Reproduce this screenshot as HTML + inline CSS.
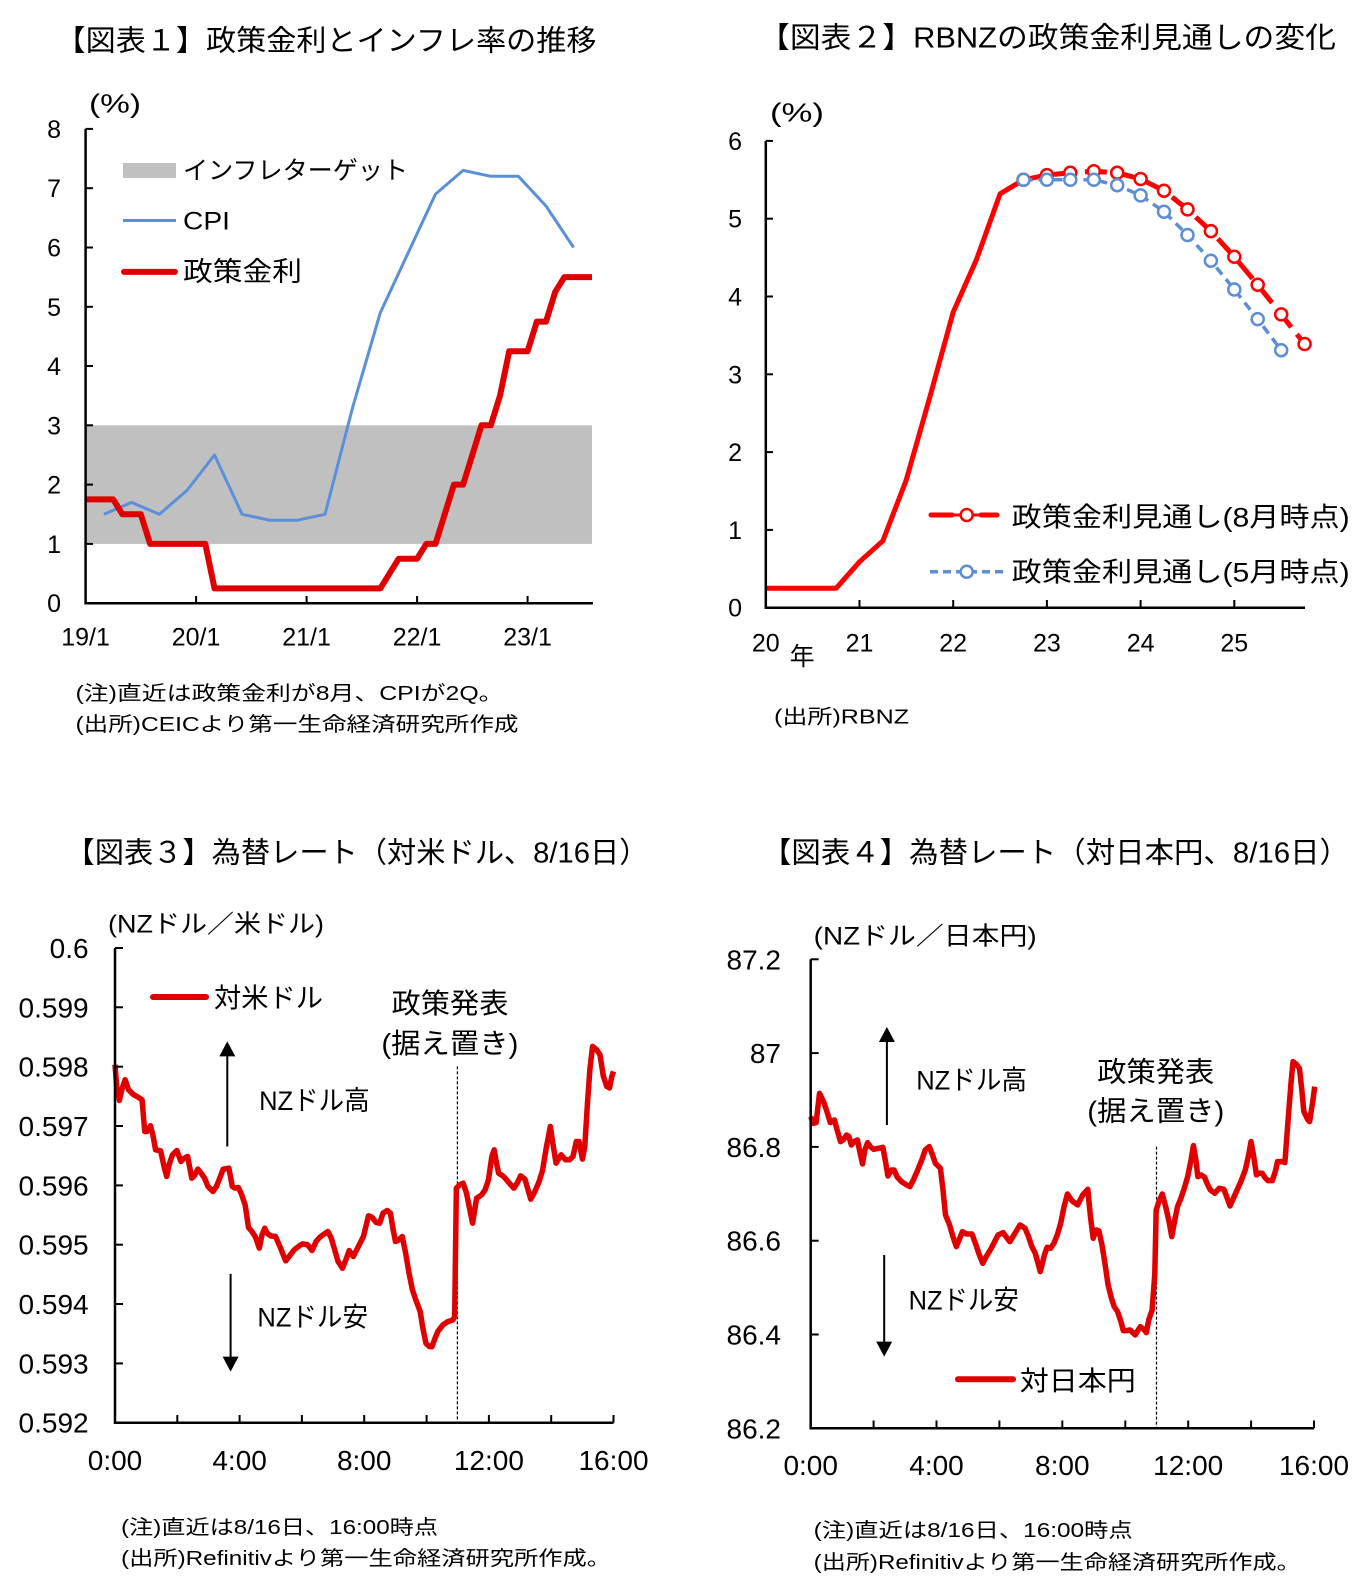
<!DOCTYPE html>
<html><head><meta charset="utf-8">
<style>
html,body{margin:0;padding:0;background:#fff;}
svg{display:block;}
text{font-family:"Liberation Sans","Noto Sans CJK JP",sans-serif;fill:#000;}
</style></head>
<body>
<svg width="1367" height="1579" viewBox="0 0 1367 1579" xmlns="http://www.w3.org/2000/svg">
<rect width="1367" height="1579" fill="#fff"/>

<!-- ================= CHART 1 ================= -->
<text x="55.5" y="50.7" font-size="29" textLength="541" lengthAdjust="spacingAndGlyphs">【図表１】政策金利とインフレ率の推移</text>
<text x="89" y="112.5" font-size="26" textLength="52" lengthAdjust="spacingAndGlyphs">(%)</text>
<!-- band -->
<rect x="85.6" y="425.3" width="506.4" height="118.6" fill="#c0c0c0"/>
<!-- CPI -->
<polyline fill="none" stroke="#5b8fd9" stroke-width="3" stroke-linejoin="round"
 points="104.0,514.3 131.6,502.4 159.3,514.3 186.9,490.5 214.5,455.0 242.1,514.3 269.8,520.2 297.4,520.2 325.0,514.3 352.6,407.5 380.3,312.7 407.9,253.4 435.5,194.1 463.1,170.4 490.8,176.3 518.4,176.3 546.0,206.0 573.6,247.5"/>
<!-- policy rate -->
<polyline fill="none" stroke="#e00000" stroke-width="6" stroke-linejoin="round"
 points="85.6,499.4 113.2,499.4 122.4,514.3 140.8,514.3 150.1,543.9 205.3,543.9 214.5,588.4 380.3,588.4 398.7,558.7 417.1,558.7 426.3,543.9 435.5,543.9 453.9,484.6 463.1,484.6 481.5,425.3 490.8,425.3 500.0,395.7 509.2,351.2 527.6,351.2 536.8,321.6 546.0,321.6 555.2,291.9 564.4,277.1 592.0,277.1"/>
<!-- axes -->
<polyline points="85.6,128.9 85.6,603.2 593,603.2" fill="none" stroke="#000" stroke-width="2.5"/>
<g stroke="#000" stroke-width="2">
<line x1="85.6" y1="128.9" x2="93" y2="128.9"/>
<line x1="85.6" y1="188.2" x2="93" y2="188.2"/>
<line x1="85.6" y1="247.5" x2="93" y2="247.5"/>
<line x1="85.6" y1="306.8" x2="93" y2="306.8"/>
<line x1="85.6" y1="366.0" x2="93" y2="366.0"/>
<line x1="85.6" y1="425.3" x2="93" y2="425.3"/>
<line x1="85.6" y1="484.6" x2="93" y2="484.6"/>
<line x1="85.6" y1="543.9" x2="93" y2="543.9"/>
<line x1="196.1" y1="603.2" x2="196.1" y2="596"/>
<line x1="306.6" y1="603.2" x2="306.6" y2="596"/>
<line x1="417.1" y1="603.2" x2="417.1" y2="596"/>
<line x1="527.6" y1="603.2" x2="527.6" y2="596"/>
</g>
<g font-size="25" text-anchor="end">
<text x="61" y="137.9">8</text>
<text x="61" y="197.2">7</text>
<text x="61" y="256.5">6</text>
<text x="61" y="315.8">5</text>
<text x="61" y="375.0">4</text>
<text x="61" y="434.3">3</text>
<text x="61" y="493.6">2</text>
<text x="61" y="552.9">1</text>
<text x="61" y="612.2">0</text>
</g>
<g font-size="25" text-anchor="middle">
<text x="85.6" y="645.5">19/1</text>
<text x="196.1" y="645.5">20/1</text>
<text x="306.6" y="645.5">21/1</text>
<text x="417.1" y="645.5">22/1</text>
<text x="527.6" y="645.5">23/1</text>
</g>
<!-- legend -->
<rect x="123" y="163" width="53" height="15" fill="#c0c0c0"/>
<line x1="123" y1="220.5" x2="176" y2="220.5" stroke="#5b8fd9" stroke-width="3"/>
<line x1="124" y1="271.9" x2="175" y2="271.9" stroke="#e00000" stroke-width="6" stroke-linecap="round"/>
<text x="183" y="179.2" font-size="25" textLength="225" lengthAdjust="spacingAndGlyphs">インフレターゲット</text>
<text x="183" y="229.5" font-size="25" textLength="47" lengthAdjust="spacingAndGlyphs">CPI</text>
<text x="183" y="280.9" font-size="27" textLength="119" lengthAdjust="spacingAndGlyphs">政策金利</text>
<!-- notes -->
<text x="75.5" y="700" font-size="20" textLength="428" lengthAdjust="spacingAndGlyphs">(注)直近は政策金利が8月、CPIが2Q。</text>
<text x="75.5" y="731.2" font-size="20" textLength="443" lengthAdjust="spacingAndGlyphs">(出所)CEICより第一生命経済研究所作成</text>

<!-- ================= CHART 2 ================= -->
<text x="759" y="47.7" font-size="29" textLength="577" lengthAdjust="spacingAndGlyphs">【図表２】RBNZの政策金利見通しの変化</text>
<text x="770" y="121.6" font-size="26" textLength="54" lengthAdjust="spacingAndGlyphs">(%)</text>
<!-- historical -->
<polyline fill="none" stroke="#ff0000" stroke-width="5" stroke-linejoin="round"
 points="765.8,588.3 836.1,588.3 859.5,561.8 882.9,540.8 906.2,480.1 929.7,397.6 953.2,312.1 976.6,259.2 1000.1,193.8 1023.5,179.8"/>
<!-- red forecast -->
<polyline fill="none" stroke="#ff0000" stroke-width="5" stroke-dasharray="22 9" stroke-linejoin="round"
 points="1023.5,179.8 1046.9,175.1 1070.3,172.8 1093.8,171.2 1117.2,172.8 1140.6,179.0 1164.0,190.7 1187.5,209.4 1210.9,231.1 1234.3,256.8 1257.7,284.8 1281.2,314.4 1304.6,344.0"/>
<g fill="#fff" stroke="#ff0000" stroke-width="2.5">
<circle cx="1023.5" cy="179.8" r="6"/><circle cx="1046.9" cy="175.1" r="6"/><circle cx="1070.3" cy="172.8" r="6"/><circle cx="1093.8" cy="171.2" r="6"/><circle cx="1117.2" cy="172.8" r="6"/><circle cx="1140.6" cy="179.0" r="6"/><circle cx="1164.0" cy="190.7" r="6"/><circle cx="1187.5" cy="209.4" r="6"/><circle cx="1210.9" cy="231.1" r="6"/><circle cx="1234.3" cy="256.8" r="6"/><circle cx="1257.7" cy="284.8" r="6"/><circle cx="1281.2" cy="314.4" r="6"/><circle cx="1304.6" cy="344.0" r="6"/>
</g>
<!-- blue forecast -->
<polyline fill="none" stroke="#5b8ed6" stroke-width="3.5" stroke-dasharray="9 6" stroke-linejoin="round"
 points="1023.5,179.8 1046.9,179.8 1070.3,179.8 1093.8,179.8 1117.2,185.2 1140.6,195.4 1164.0,211.7 1187.5,235.0 1210.9,260.7 1234.3,289.5 1257.7,319.1 1281.2,350.2"/>
<g fill="#fff" stroke="#5b8ed6" stroke-width="2.5">
<circle cx="1023.5" cy="179.8" r="6"/><circle cx="1046.9" cy="179.8" r="6"/><circle cx="1070.3" cy="179.8" r="6"/><circle cx="1093.8" cy="179.8" r="6"/><circle cx="1117.2" cy="185.2" r="6"/><circle cx="1140.6" cy="195.4" r="6"/><circle cx="1164.0" cy="211.7" r="6"/><circle cx="1187.5" cy="235.0" r="6"/><circle cx="1210.9" cy="260.7" r="6"/><circle cx="1234.3" cy="289.5" r="6"/><circle cx="1257.7" cy="319.1" r="6"/><circle cx="1281.2" cy="350.2" r="6"/>
</g>
<!-- axes -->
<polyline points="765.8,140.9 765.8,607.7 1305,607.7" fill="none" stroke="#000" stroke-width="2.5"/>
<g stroke="#000" stroke-width="2">
<line x1="765.8" y1="140.9" x2="773" y2="140.9"/>
<line x1="765.8" y1="218.7" x2="773" y2="218.7"/>
<line x1="765.8" y1="296.5" x2="773" y2="296.5"/>
<line x1="765.8" y1="374.3" x2="773" y2="374.3"/>
<line x1="765.8" y1="452.1" x2="773" y2="452.1"/>
<line x1="765.8" y1="529.9" x2="773" y2="529.9"/>
<line x1="859.5" y1="607.7" x2="859.5" y2="600"/>
<line x1="953.2" y1="607.7" x2="953.2" y2="600"/>
<line x1="1046.9" y1="607.7" x2="1046.9" y2="600"/>
<line x1="1140.6" y1="607.7" x2="1140.6" y2="600"/>
<line x1="1234.3" y1="607.7" x2="1234.3" y2="600"/>
</g>
<g font-size="25" text-anchor="end">
<text x="742" y="149.9">6</text>
<text x="742" y="227.7">5</text>
<text x="742" y="305.5">4</text>
<text x="742" y="383.3">3</text>
<text x="742" y="461.1">2</text>
<text x="742" y="538.9">1</text>
<text x="742" y="616.7">0</text>
</g>
<g font-size="25" text-anchor="middle">
<text x="765.8" y="651.6">20</text>
<text x="859.5" y="651.6">21</text>
<text x="953.2" y="651.6">22</text>
<text x="1046.9" y="651.6">23</text>
<text x="1140.6" y="651.6">24</text>
<text x="1234.3" y="651.6">25</text>
</g>
<text x="789.6" y="665" font-size="25">年</text>
<text x="774" y="723.7" font-size="20" textLength="135" lengthAdjust="spacingAndGlyphs">(出所)RBNZ</text>
<!-- legend -->
<line x1="931" y1="515" x2="952" y2="515" stroke="#ff0000" stroke-width="5" stroke-linecap="round"/>
<line x1="952" y1="515" x2="981" y2="515" stroke="#ff0000" stroke-width="3"/>
<line x1="981" y1="515" x2="997" y2="515" stroke="#ff0000" stroke-width="5" stroke-linecap="round"/>
<circle cx="966.7" cy="515" r="6" fill="#fff" stroke="#ff0000" stroke-width="2.5"/>
<line x1="930" y1="571.7" x2="1003" y2="571.7" stroke="#5b8ed6" stroke-width="3.5" stroke-dasharray="8 5"/>
<circle cx="966.7" cy="571.7" r="6" fill="#fff" stroke="#5b8ed6" stroke-width="2.5"/>
<text x="1011.7" y="526.4" font-size="27" textLength="338" lengthAdjust="spacingAndGlyphs">政策金利見通し(8月時点)</text>
<text x="1011.7" y="581.4" font-size="27" textLength="338" lengthAdjust="spacingAndGlyphs">政策金利見通し(5月時点)</text>

<!-- ================= CHART 3 ================= -->
<text x="65.5" y="862.4" font-size="29" textLength="583" lengthAdjust="spacingAndGlyphs">【図表３】為替レート（対米ドル、8/16日）</text>
<text x="108" y="932.5" font-size="25" textLength="216" lengthAdjust="spacingAndGlyphs">(NZドル／米ドル)</text>
<!-- dashed event line -->
<line x1="457.4" y1="1066.4" x2="457.4" y2="1422.7" stroke="#000" stroke-width="1.2" stroke-dasharray="3 2"/>
<!-- series -->
<g transform="translate(115,948) scale(0.33797,0.33356) translate(-45,-55)">
<polyline fill="none" stroke="#e00000" stroke-width="5.5" vector-effect="non-scaling-stroke" stroke-linejoin="round"
 points="45,405 50,470 58,512 65,480 75,450 85,480 100,495 110,500 125,510 133,605 140,605 150,588 158,620 165,660 180,663 190,710 198,740 205,705 215,675 228,662 240,695 250,685 260,680 272,745 278,740 290,718 300,730 310,745 320,770 335,785 345,770 355,745 365,718 382,715 392,770 400,775 410,773 420,795 430,825 440,893 450,905 460,920 472,955 480,915 488,895 495,910 505,918 520,920 535,955 550,993 560,980 575,960 590,948 600,942 615,945 628,962 640,935 650,923 660,915 675,905 685,925 695,960 705,995 718,1015 728,990 738,962 750,980 760,960 770,940 780,920 795,858 805,862 818,878 828,880 838,850 850,842 860,850 868,900 875,935 885,930 895,920 905,970 915,1030 925,1080 935,1110 948,1145 955,1190 965,1240 975,1250 983,1250 990,1230 1000,1205 1015,1185 1030,1175 1045,1170 1050,1160 1055,775 1065,765 1075,760 1085,790 1095,840 1103,880 1115,805 1130,795 1140,780 1150,750 1160,680 1167,660 1172,690 1180,730 1195,740 1210,758 1225,775 1235,760 1245,738 1258,748 1275,808 1285,790 1300,755 1310,722 1320,660 1333,590 1342,650 1350,700 1365,675 1378,690 1390,690 1400,680 1410,635 1418,635 1428,688 1435,650 1443,520 1450,420 1458,350 1470,360 1480,375 1490,440 1500,470 1508,475 1515,440 1520,425"/>
</g>
<!-- axes -->
<polyline points="115,948 115,1422.7 613.5,1422.7" fill="none" stroke="#000" stroke-width="2.5"/>
<g stroke="#000" stroke-width="2">
<line x1="115" y1="948" x2="123" y2="948"/>
<line x1="115" y1="1007.3" x2="123" y2="1007.3"/>
<line x1="115" y1="1066.7" x2="123" y2="1066.7"/>
<line x1="115" y1="1126.0" x2="123" y2="1126.0"/>
<line x1="115" y1="1185.4" x2="123" y2="1185.4"/>
<line x1="115" y1="1244.7" x2="123" y2="1244.7"/>
<line x1="115" y1="1304.0" x2="123" y2="1304.0"/>
<line x1="115" y1="1363.4" x2="123" y2="1363.4"/>
<line x1="177.3" y1="1422.7" x2="177.3" y2="1415"/>
<line x1="239.6" y1="1422.7" x2="239.6" y2="1415"/>
<line x1="301.9" y1="1422.7" x2="301.9" y2="1415"/>
<line x1="364.2" y1="1422.7" x2="364.2" y2="1415"/>
<line x1="426.6" y1="1422.7" x2="426.6" y2="1415"/>
<line x1="488.9" y1="1422.7" x2="488.9" y2="1415"/>
<line x1="551.2" y1="1422.7" x2="551.2" y2="1415"/>
<line x1="613.5" y1="1422.7" x2="613.5" y2="1415"/>
</g>
<g font-size="28" text-anchor="end">
<text x="88.6" y="958">0.6</text>
<text x="88.6" y="1017.3">0.599</text>
<text x="88.6" y="1076.7">0.598</text>
<text x="88.6" y="1136.0">0.597</text>
<text x="88.6" y="1195.4">0.596</text>
<text x="88.6" y="1254.7">0.595</text>
<text x="88.6" y="1314.0">0.594</text>
<text x="88.6" y="1373.4">0.593</text>
<text x="88.6" y="1432.7">0.592</text>
</g>
<g font-size="28" text-anchor="middle">
<text x="115" y="1470">0:00</text>
<text x="239.6" y="1470">4:00</text>
<text x="364.2" y="1470">8:00</text>
<text x="488.9" y="1470">12:00</text>
<text x="613.5" y="1470">16:00</text>
</g>
<!-- legend -->
<line x1="153" y1="997" x2="206" y2="997" stroke="#e00000" stroke-width="6" stroke-linecap="round"/>
<text x="214" y="1007.7" font-size="27" textLength="109" lengthAdjust="spacingAndGlyphs">対米ドル</text>
<!-- annotations -->
<text x="391.5" y="1013" font-size="28" textLength="117" lengthAdjust="spacingAndGlyphs">政策発表</text>
<text x="381.4" y="1053" font-size="28" textLength="137" lengthAdjust="spacingAndGlyphs">(据え置き)</text>
<text x="259.1" y="1110" font-size="27" textLength="110.6" lengthAdjust="spacingAndGlyphs">NZドル高</text>
<text x="257.4" y="1326.3" font-size="27" textLength="110.6" lengthAdjust="spacingAndGlyphs">NZドル安</text>
<line x1="227.3" y1="1146.5" x2="227.3" y2="1054" stroke="#000" stroke-width="2"/>
<polygon points="227.3,1041.4 219.3,1056.4 235.3,1056.4" fill="#000"/>
<line x1="230.6" y1="1273.9" x2="230.6" y2="1358" stroke="#000" stroke-width="2"/>
<polygon points="230.6,1371.6 222.6,1356.6 238.6,1356.6" fill="#000"/>
<!-- notes -->
<text x="121" y="1534.2" font-size="20" textLength="317" lengthAdjust="spacingAndGlyphs">(注)直近は8/16日、16:00時点</text>
<text x="121" y="1565.2" font-size="20" textLength="490" lengthAdjust="spacingAndGlyphs">(出所)Refinitivより第一生命経済研究所作成。</text>

<!-- ================= CHART 4 ================= -->
<text x="762" y="862.4" font-size="29" textLength="587" lengthAdjust="spacingAndGlyphs">【図表４】為替レート（対日本円、8/16日）</text>
<text x="813.7" y="944.5" font-size="25" textLength="223" lengthAdjust="spacingAndGlyphs">(NZドル／日本円)</text>
<line x1="1156.5" y1="1146.6" x2="1156.5" y2="1428.3" stroke="#000" stroke-width="1.2" stroke-dasharray="3 2"/>
<g transform="translate(810.7,959.3) scale(0.3387,0.33333) translate(-62,-58)">
<polyline fill="none" stroke="#e00000" stroke-width="5.5" vector-effect="non-scaling-stroke" stroke-linejoin="round"
 points="62,530 70,550 78,548 88,460 100,485 110,515 120,548 132,540 140,570 150,605 158,600 168,585 175,590 182,615 190,605 200,600 208,640 215,672 222,630 230,608 238,620 248,628 262,625 275,622 282,660 290,708 300,690 308,690 318,712 330,725 345,735 355,740 365,720 378,690 390,660 400,630 412,620 420,640 430,670 445,685 452,745 460,825 472,855 482,890 492,920 500,900 510,875 522,882 538,882 550,915 560,945 570,970 580,950 595,925 605,905 615,885 630,878 640,892 650,905 665,880 680,855 695,865 705,890 715,920 725,940 740,995 752,945 760,922 770,925 780,910 790,885 800,850 810,800 820,762 833,782 850,795 865,765 880,748 888,830 896,895 905,870 913,873 922,915 930,965 940,1035 950,1075 958,1100 968,1115 978,1145 985,1172 995,1172 1005,1170 1020,1185 1035,1160 1045,1168 1053,1178 1060,1140 1070,1110 1078,1000 1082,810 1090,785 1100,762 1110,800 1120,845 1128,890 1137,840 1145,800 1155,775 1165,745 1175,710 1185,660 1192,617 1200,665 1205,710 1215,705 1225,712 1232,730 1242,750 1255,760 1268,745 1282,748 1290,770 1300,798 1310,775 1320,752 1332,725 1345,690 1355,645 1362,605 1370,650 1378,705 1385,700 1395,700 1405,715 1412,722 1425,722 1435,690 1440,665 1455,665 1462,668 1470,560 1480,430 1486,365 1495,372 1505,385 1512,450 1518,515 1530,540 1535,545 1545,480 1550,440"/>
</g>
<polyline points="810.7,959.3 810.7,1428.3 1314,1428.3" fill="none" stroke="#000" stroke-width="2.5"/>
<g stroke="#000" stroke-width="2">
<line x1="810.7" y1="959.3" x2="818.7" y2="959.3"/>
<line x1="810.7" y1="1053.1" x2="818.7" y2="1053.1"/>
<line x1="810.7" y1="1146.9" x2="818.7" y2="1146.9"/>
<line x1="810.7" y1="1240.7" x2="818.7" y2="1240.7"/>
<line x1="810.7" y1="1334.5" x2="818.7" y2="1334.5"/>
<line x1="873.6" y1="1428.3" x2="873.6" y2="1420.5"/>
<line x1="936.5" y1="1428.3" x2="936.5" y2="1420.5"/>
<line x1="999.4" y1="1428.3" x2="999.4" y2="1420.5"/>
<line x1="1062.3" y1="1428.3" x2="1062.3" y2="1420.5"/>
<line x1="1125.3" y1="1428.3" x2="1125.3" y2="1420.5"/>
<line x1="1188.2" y1="1428.3" x2="1188.2" y2="1420.5"/>
<line x1="1251.1" y1="1428.3" x2="1251.1" y2="1420.5"/>
<line x1="1314.0" y1="1428.3" x2="1314.0" y2="1420.5"/>
</g>
<g font-size="28" text-anchor="end">
<text x="781" y="969.3">87.2</text>
<text x="781" y="1063.1">87</text>
<text x="781" y="1156.9">86.8</text>
<text x="781" y="1250.7">86.6</text>
<text x="781" y="1344.5">86.4</text>
<text x="781" y="1438.3">86.2</text>
</g>
<g font-size="28" text-anchor="middle">
<text x="810.7" y="1475">0:00</text>
<text x="936.5" y="1475">4:00</text>
<text x="1062.3" y="1475">8:00</text>
<text x="1188.2" y="1475">12:00</text>
<text x="1314.0" y="1475">16:00</text>
</g>
<text x="1097.3" y="1081.7" font-size="28" textLength="117" lengthAdjust="spacingAndGlyphs">政策発表</text>
<text x="1087.3" y="1120.7" font-size="28" textLength="137" lengthAdjust="spacingAndGlyphs">(据え置き)</text>
<text x="916.2" y="1089.7" font-size="27" textLength="110.8" lengthAdjust="spacingAndGlyphs">NZドル高</text>
<text x="908.6" y="1309.7" font-size="27" textLength="110.2" lengthAdjust="spacingAndGlyphs">NZドル安</text>
<line x1="886.9" y1="1125" x2="886.9" y2="1040" stroke="#000" stroke-width="2"/>
<polygon points="886.9,1027 878.9,1042 894.9,1042" fill="#000"/>
<line x1="884.2" y1="1255" x2="884.2" y2="1343" stroke="#000" stroke-width="2"/>
<polygon points="884.2,1356.6 876.2,1341.6 892.2,1341.6" fill="#000"/>
<line x1="958" y1="1379.3" x2="1013" y2="1379.3" stroke="#e00000" stroke-width="6" stroke-linecap="round"/>
<text x="1019.8" y="1390.3" font-size="27" textLength="116" lengthAdjust="spacingAndGlyphs">対日本円</text>
<text x="813.7" y="1536.8" font-size="20" textLength="319" lengthAdjust="spacingAndGlyphs">(注)直近は8/16日、16:00時点</text>
<text x="813.7" y="1569" font-size="20" textLength="487" lengthAdjust="spacingAndGlyphs">(出所)Refinitivより第一生命経済研究所作成。</text>
</svg>
</body></html>
